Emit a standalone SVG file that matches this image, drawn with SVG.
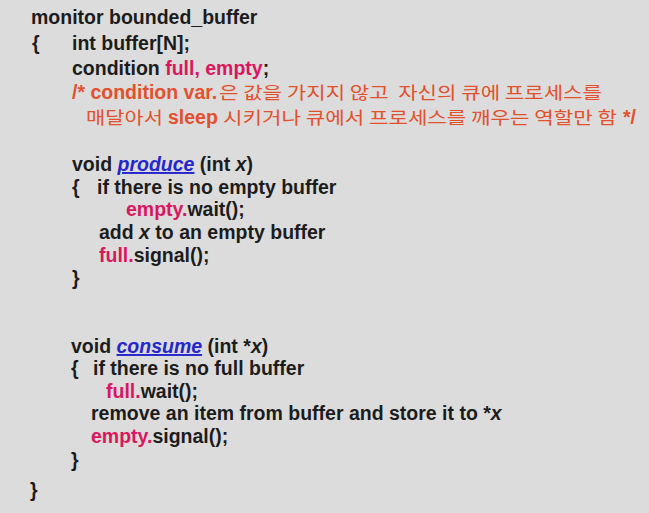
<svg xmlns="http://www.w3.org/2000/svg" width="649" height="513" viewBox="0 0 649 513">
<style>
text{font-family:"Liberation Sans",Arial,"Noto Sans CJK KR",sans-serif;font-size:19.5px;font-weight:bold;fill:#1c1c1c;white-space:pre}
.pk{fill:#d9175f}
.or{fill:#e2512c}
.ko{font-family:"Noto Sans CJK KR","Noto Sans",sans-serif;font-weight:normal;font-size:17.5px}
.bl{fill:#2626cc;font-style:italic;text-decoration:underline}
.it{font-style:italic}
</style>
<rect width="649" height="513" fill="#dcdcdc"/>
<g id="monitor">
<text x="31" y="24">monitor bounded_buffer</text>
<text x="32" y="50">{</text>
<text x="72" y="50">int buffer[N];</text>
<text x="72" y="75">condition <tspan class="pk">full, empty</tspan>;</text>
<text x="72" y="99" class="or">/* condition var.</text>
<text x="219" y="99" class="or ko" textLength="383" lengthAdjust="spacingAndGlyphs">은 값을 가지지 않고  자신의 큐에 프로세스를</text>
<text x="86" y="124" class="or ko" textLength="77" lengthAdjust="spacingAndGlyphs">매달아서</text>
<text x="168" y="124" class="or">sleep</text>
<text x="223" y="124" class="or ko" textLength="394" lengthAdjust="spacingAndGlyphs">시키거나 큐에서 프로세스를 깨우는 역할만 함</text>
<text x="623" y="124" class="or">*/</text>
</g>
<g id="produce">
<text x="72" y="171">void <tspan class="bl">produce</tspan> (int <tspan class="it">x</tspan>)</text>
<text x="72" y="194">{</text>
<text x="97" y="194">if there is no empty buffer</text>
<text x="126" y="216"><tspan class="pk">empty.</tspan>wait();</text>
<text x="99" y="239">add <tspan class="it">x</tspan> to an empty buffer</text>
<text x="99" y="262"><tspan class="pk">full.</tspan>signal();</text>
<text x="72" y="285">}</text>
</g>
<g id="consume">
<text x="71" y="353">void <tspan class="bl">consume</tspan> (int *<tspan class="it">x</tspan>)</text>
<text x="71" y="375">{</text>
<text x="93" y="375">if there is no full buffer</text>
<text x="106" y="398"><tspan class="pk">full.</tspan>wait();</text>
<text x="91" y="420">remove an item from buffer and store it to *<tspan class="it">x</tspan></text>
<text x="91" y="443"><tspan class="pk">empty.</tspan>signal();</text>
<text x="71" y="467">}</text>
</g>
<text x="30" y="497">}</text>
</svg>
